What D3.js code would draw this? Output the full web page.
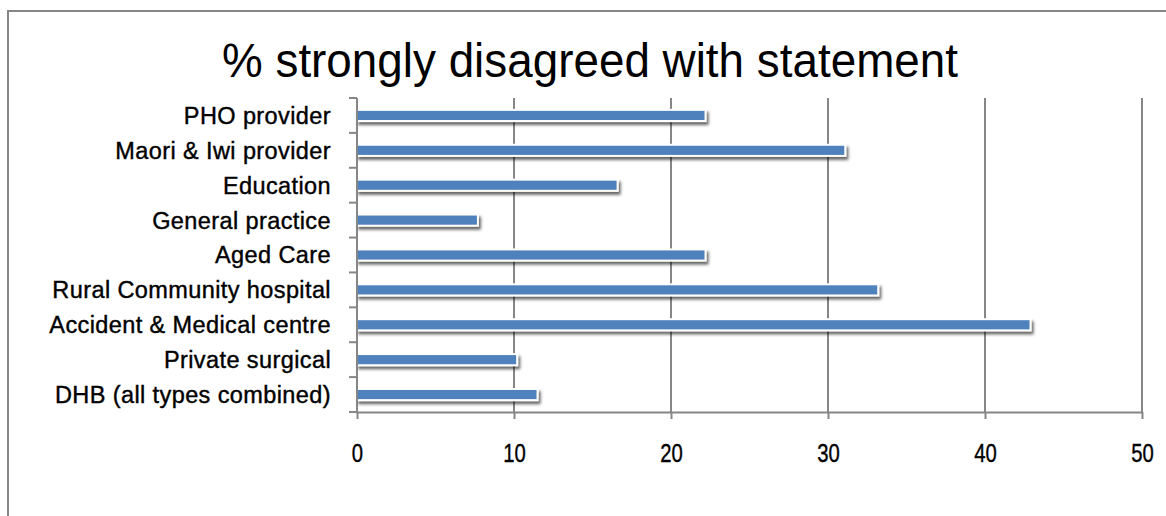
<!DOCTYPE html>
<html>
<head>
<meta charset="utf-8">
<script src="https://cdn.jsdelivr.net/npm/d3@7"></script>
<style>
  html, body { margin: 0; padding: 0; background: #fff; }
  svg { display: block; }
  text { font-family: "Liberation Sans", Arial, sans-serif; fill: #000; }
</style>
</head>
<body>
<svg id="chart" width="1166" height="516"></svg>
<script>
// Chart data
const categories = [
  "PHO provider",
  "Maori & Iwi provider",
  "Education",
  "General practice",
  "Aged Care",
  "Rural Community hospital",
  "Accident & Medical centre",
  "Private surgical",
  "DHB (all types combined)"
];
const values = [22.2, 31.1, 16.6, 7.7, 22.2, 33.2, 42.9, 10.2, 11.5];
const xTicks = [0, 10, 20, 30, 40, 50];
const title = "%  strongly disagreed with statement";

const svg = d3.select("#chart");
const plot = { left: 357, right: 1142, top: 98, bottom: 412 };

// Soft shadow under each bar
const defs = svg.append("defs");
const f = defs.append("filter").attr("id", "barShadow")
  .attr("x", "-5%").attr("y", "-60%").attr("width", "110%").attr("height", "260%");
f.append("feDropShadow")
  .attr("dx", 2).attr("dy", 3).attr("stdDeviation", 1.8)
  .attr("flood-color", "#000").attr("flood-opacity", 0.6);

// Outer frame
svg.append("rect")
  .attr("x", 8).attr("y", 11).attr("width", 1300).attr("height", 700)
  .attr("fill", "#fff").attr("stroke", "#868686").attr("stroke-width", 2);

// Title
svg.append("text")
  .attr("x", 590).attr("y", 77)
  .attr("text-anchor", "middle")
  .attr("font-size", 49)
  .attr("textLength", 736).attr("lengthAdjust", "spacingAndGlyphs")
  .text(title);

const x = d3.scaleLinear().domain([0, 50]).range([plot.left, plot.right]);
const y = d3.scaleBand().domain(categories).range([plot.top, plot.bottom]).paddingInner(0.68).paddingOuter(0.34);

// Vertical gridlines
svg.append("g")
  .selectAll("line")
  .data(xTicks.filter(d => d > 0))
  .join("line")
  .attr("x1", d => x(d)).attr("x2", d => x(d))
  .attr("y1", plot.top).attr("y2", plot.bottom)
  .attr("stroke", "#868686").attr("stroke-width", 2);

// Bars
svg.append("g")
  .selectAll("rect")
  .data(categories.map((c, i) => ({ c, v: values[i] })))
  .join("rect")
  .attr("x", x(0))
  .attr("y", d => y(d.c))
  .attr("width", d => x(d.v) - x(0))
  .attr("height", y.bandwidth())
  .attr("fill", "#4F81BD")
  .attr("stroke", "#fff").attr("stroke-width", 2)
  .attr("filter", "url(#barShadow)");

// X axis
const xAxis = svg.append("g")
  .attr("transform", `translate(0,${plot.bottom})`)
  .call(d3.axisBottom(x).tickValues(xTicks).tickSize(7).tickPadding(0).tickSizeOuter(0));
xAxis.select(".domain").attr("stroke", "#868686").attr("stroke-width", 2);
xAxis.selectAll(".tick line").attr("stroke", "#868686").attr("stroke-width", 2);
// narrow, tall digits
xAxis.selectAll(".tick text")
  .attr("y", 0).attr("dy", 0)
  .attr("font-size", 26).attr("fill", "#000")
  .attr("stroke", "#000").attr("stroke-width", 0.4)
  .attr("transform", "translate(0,50) scale(0.78,1)");

// Y axis: ticks at band boundaries
const n = categories.length;
const edges = d3.range(n + 1).map(i => plot.top + i * (plot.bottom - plot.top) / n);
const yAxis = svg.append("g");
yAxis.append("line")
  .attr("x1", plot.left).attr("x2", plot.left)
  .attr("y1", plot.top).attr("y2", plot.bottom)
  .attr("stroke", "#868686").attr("stroke-width", 2);
yAxis.selectAll("line.tk")
  .data(edges)
  .join("line").attr("class", "tk")
  .attr("x1", plot.left - 8).attr("x2", plot.left)
  .attr("y1", d => d).attr("y2", d => d)
  .attr("stroke", "#868686").attr("stroke-width", 2);
yAxis.selectAll("text")
  .data(categories)
  .join("text")
  .attr("x", 331)
  .attr("y", d => y(d) + y.bandwidth() / 2)
  .attr("dy", "0.36em")
  .attr("text-anchor", "end")
  .attr("font-size", 23.5)
  .attr("letter-spacing", 0.4)
  .attr("stroke", "#000").attr("stroke-width", 0.4)
  .text(d => d);
</script>
</body>
</html>
